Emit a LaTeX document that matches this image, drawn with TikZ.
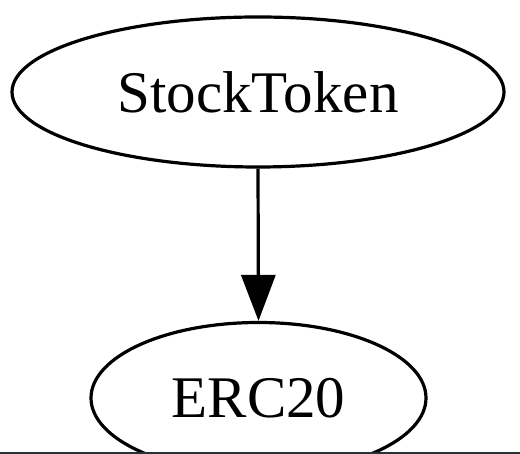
\documentclass[tikz,border=0pt]{standalone}
\usepackage{fontspec}
\setmainfont{Liberation Serif}
\usetikzlibrary{shapes.geometric,arrows.meta}
\begin{document}
\begin{tikzpicture}[x=1pt,y=1pt,
  gvnode/.style={draw,ellipse,line width=3.2pt,inner sep=0pt,
    font=\fontsize{59}{61}\selectfont},
  gvedge/.style={line width=3.2pt,-{Triangle[length=46pt,width=34pt]}}]
\useasboundingbox (0,0) rectangle (520,454);
\clip (0,0) rectangle (520,454);
\node[gvnode,minimum width=492pt,minimum height=150pt] (st) at (258,362) {StockToken};
\node[gvnode,minimum width=335pt,minimum height=151pt] (erc) at (258.5,56) {ERC20};
\draw[gvedge] (st.south) -- (erc.north);
\fill[fill={rgb,255:red,43;green,47;blue,54}] (0,0) rectangle (520,2);
\end{tikzpicture}
\end{document}
